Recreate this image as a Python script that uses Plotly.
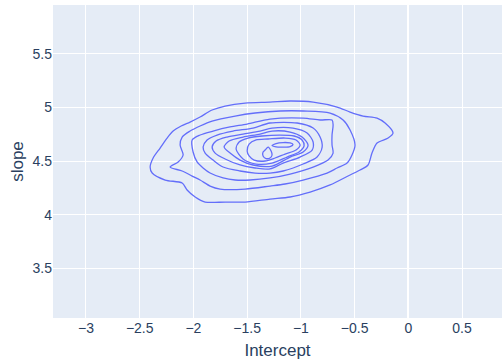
import plotly.graph_objects as go

# Density contour levels of the posterior sample (Intercept vs slope),
# listed from the outermost level inwards. Each ring is closed.
c1_x = [-2.403, -2.375, -2.310, -2.245, -2.189, -2.114, -2.031, -1.938, -1.826, -1.705, -1.519, -1.287, -1.100, -0.886, -0.663, -0.542, -0.421, -0.291, -0.216, -0.142, -0.188, -0.291, -0.338, -0.375, -0.449, -0.542, -0.728, -0.914, -1.100, -1.287, -1.519, -1.705, -1.891, -1.984, -2.059, -2.105, -2.263, -2.384]
c1_y = [4.444, 4.528, 4.621, 4.714, 4.779, 4.826, 4.863, 4.910, 4.975, 5.012, 5.040, 5.049, 5.059, 5.049, 5.003, 4.956, 4.919, 4.900, 4.854, 4.761, 4.714, 4.668, 4.574, 4.463, 4.416, 4.370, 4.277, 4.211, 4.165, 4.146, 4.118, 4.118, 4.118, 4.165, 4.230, 4.295, 4.323, 4.388]

c2_x = [-2.217, -2.142, -2.096, -2.124, -2.105, -2.031, -1.938, -1.826, -1.612, -1.426, -1.193, -0.979, -0.728, -0.607, -0.542, -0.496, -0.524, -0.570, -0.663, -0.756, -0.979, -1.147, -1.287, -1.519, -1.752, -1.845, -1.938, -2.012, -2.105]
c2_y = [4.444, 4.491, 4.556, 4.649, 4.723, 4.779, 4.826, 4.872, 4.919, 4.947, 4.966, 4.966, 4.947, 4.882, 4.789, 4.649, 4.556, 4.481, 4.435, 4.388, 4.323, 4.286, 4.267, 4.239, 4.239, 4.267, 4.323, 4.360, 4.407]

c3_x = [-2.012, -1.938, -1.817, -1.659, -1.500, -1.287, -0.979, -0.821, -0.710, -0.700, -0.710, -0.710, -0.700, -0.747, -0.886, -1.100, -1.287, -1.472, -1.612, -1.724, -1.845, -1.910, -1.966, -2.003]
c3_y = [4.696, 4.742, 4.779, 4.817, 4.844, 4.891, 4.900, 4.882, 4.882, 4.835, 4.742, 4.649, 4.574, 4.509, 4.444, 4.379, 4.342, 4.323, 4.323, 4.342, 4.388, 4.435, 4.491, 4.584]

c4_x = [-1.910, -1.873, -1.780, -1.631, -1.445, -1.287, -1.035, -0.886, -0.821, -0.802, -0.849, -0.979, -1.165, -1.287, -1.426, -1.566, -1.724, -1.817, -1.891]
c4_y = [4.630, 4.696, 4.742, 4.779, 4.807, 4.854, 4.854, 4.807, 4.723, 4.630, 4.537, 4.472, 4.407, 4.388, 4.388, 4.407, 4.444, 4.509, 4.574]

c5_x = [-1.826, -1.789, -1.687, -1.538, -1.380, -1.268, -1.073, -0.942, -0.886, -0.895, -1.007, -1.165, -1.287, -1.426, -1.566, -1.705, -1.798]
c5_y = [4.630, 4.686, 4.723, 4.751, 4.779, 4.807, 4.807, 4.761, 4.677, 4.602, 4.537, 4.481, 4.426, 4.435, 4.463, 4.519, 4.574]

c6_x = [-1.714, -1.668, -1.538, -1.380, -1.268, -1.100, -0.989, -0.933, -0.979, -1.100, -1.268, -1.445, -1.566, -1.659]
c6_y = [4.630, 4.686, 4.723, 4.751, 4.779, 4.770, 4.723, 4.649, 4.584, 4.537, 4.453, 4.463, 4.509, 4.574]

c7_x = [-1.603, -1.575, -1.491, -1.361, -1.193, -1.063, -0.989, -0.970, -1.017, -1.128, -1.268, -1.417, -1.538]
c7_y = [4.612, 4.677, 4.714, 4.733, 4.742, 4.733, 4.696, 4.640, 4.584, 4.537, 4.481, 4.472, 4.519]

c8_x = [-1.500, -1.482, -1.417, -1.305, -1.147, -1.045, -1.007, -1.045, -1.147, -1.240, -1.333, -1.435, -1.482]
c8_y = [4.593, 4.658, 4.696, 4.705, 4.714, 4.696, 4.649, 4.602, 4.565, 4.528, 4.500, 4.509, 4.547]

# two separate peaks at the highest level
peak_a_x = [-1.305, -1.277, -1.268, -1.287, -1.324, -1.352, -1.352, -1.333]
peak_a_y = [4.630, 4.593, 4.556, 4.528, 4.523, 4.547, 4.584, 4.602]

peak_b_x = [-1.268, -1.231, -1.165, -1.100, -1.073, -1.100, -1.165, -1.231]
peak_b_y = [4.644, 4.663, 4.672, 4.668, 4.654, 4.635, 4.630, 4.632]

rings = [
    (c1_x, c1_y), (c2_x, c2_y), (c3_x, c3_y), (c4_x, c4_y),
    (c5_x, c5_y), (c6_x, c6_y), (c7_x, c7_y), (c8_x, c8_y),
    (peak_a_x, peak_a_y), (peak_b_x, peak_b_y),
]

x_range = [-3.307, 0.872]
y_range = [3.038, 5.953]

fig = go.Figure()
for xs, ys in rings:
    fig.add_trace(go.Scatter(
        x=list(xs) + [xs[0]],
        y=list(ys) + [ys[0]],
        mode="lines",
        line=dict(color="#636efa", width=1.3, shape="spline", smoothing=0.8),
        showlegend=False,
        hoverinfo="skip",
    ))

fig.update_layout(
    template="plotly",
    width=502,
    height=360,
    font=dict(family="Liberation Sans, Arial, sans-serif", size=14, color="#2a3f5f"),
    margin=dict(l=53, r=0, t=5, b=42),
    xaxis=dict(title=dict(text="Intercept"), range=x_range, automargin=False,
               tickvals=[-3, -2.5, -2, -1.5, -1, -0.5, 0, 0.5]),
    yaxis=dict(title=dict(text="slope", standoff=4), range=y_range,
               automargin=False, tickvals=[3.5, 4, 4.5, 5, 5.5]),
)

fig.write_html("out.html")
